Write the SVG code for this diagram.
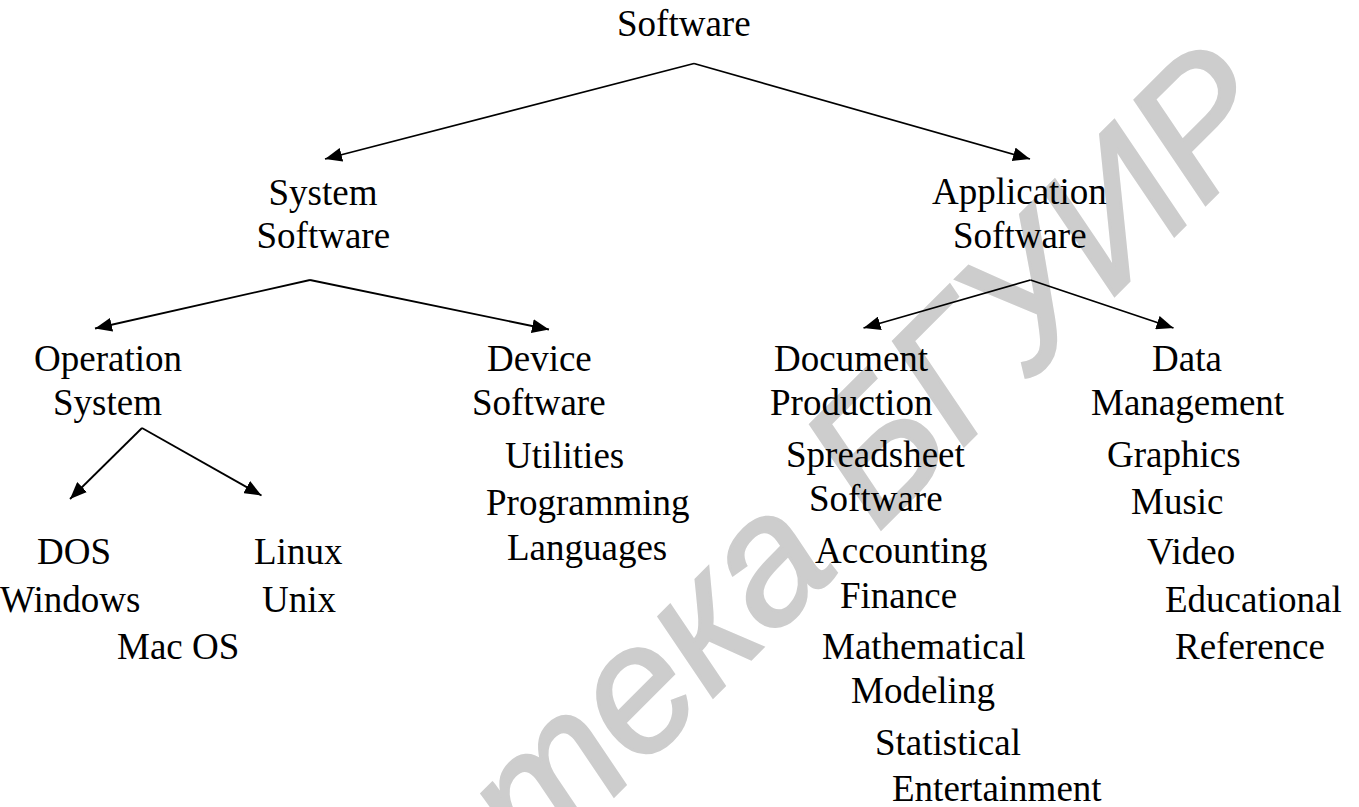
<svg xmlns="http://www.w3.org/2000/svg" width="1359" height="807" viewBox="0 0 1359 807">
  <style>
    .t { font-family: "Liberation Serif", "Times New Roman", serif; font-size: 37px; fill: #000; }
    .edge { stroke: #000; stroke-width: 1.8; fill: none; marker-end: url(#arrow); }
    .wm { font-family: "Liberation Sans", Arial, sans-serif; font-style: italic; font-size: 180px; fill: #cdcdcd; stroke: #cdcdcd; stroke-width: 3; }
  </style>
  <defs>
    <marker id="arrow" markerUnits="userSpaceOnUse" markerWidth="18" markerHeight="14" refX="17" refY="7" orient="auto">
      <path d="M0,0 L17,7 L0,14 Z" fill="#000"/>
    </marker>
  </defs>
  <rect width="1359" height="807" fill="#fff"/>

  <!-- library stamp behind the tree -->
  <g id="watermark" transform="translate(842,568) rotate(-45)">
    <text class="wm" x="0" y="0" text-anchor="end">Библиотека</text>
    <text class="wm" x="50" y="0">БГУИР</text>
  </g>

  <g id="connectors">
    <line class="edge" x1="694" y1="63.5" x2="325" y2="159"/>
    <line class="edge" x1="694" y1="63.5" x2="1030" y2="159"/>
    <line class="edge" x1="310" y1="280" x2="95" y2="328.5"/>
    <line class="edge" x1="310" y1="280" x2="549" y2="329.5"/>
    <line class="edge" x1="142" y1="428" x2="70" y2="499"/>
    <line class="edge" x1="142" y1="428" x2="261.5" y2="495.5"/>
    <line class="edge" x1="1030.5" y1="280" x2="863.5" y2="328"/>
    <line class="edge" x1="1030.5" y1="280" x2="1173.5" y2="328"/>
  </g>

  <g id="node-software"><text class="t" x="617" y="36">Software</text></g>

  <g id="node-system-software">
    <text class="t" x="268.5" y="205">System</text>
    <text class="t" x="256.5" y="247.5">Software</text>
  </g>
  <g id="node-application-software">
    <text class="t" x="932" y="204">Application</text>
    <text class="t" x="953" y="247.5">Software</text>
  </g>

  <g id="node-operation-system">
    <text class="t" x="34" y="371">Operation</text>
    <text class="t" x="53" y="415">System</text>
  </g>
  <g id="node-device-software">
    <text class="t" x="487" y="371">Device</text>
    <text class="t" x="472" y="415">Software</text>
  </g>
  <g id="node-utilities"><text class="t" x="505" y="468">Utilities</text></g>
  <g id="node-programming-languages">
    <text class="t" x="486" y="515">Programming</text>
    <text class="t" x="507" y="560">Languages</text>
  </g>

  <g id="node-dos"><text class="t" x="37" y="564">DOS</text></g>
  <g id="node-windows"><text class="t" x="0" y="611.5">Windows</text></g>
  <g id="node-mac-os"><text class="t" x="117" y="659">Mac OS</text></g>
  <g id="node-linux"><text class="t" x="254" y="564">Linux</text></g>
  <g id="node-unix"><text class="t" x="262" y="611.5">Unix</text></g>

  <g id="node-document-production">
    <text class="t" x="774" y="371">Document</text>
    <text class="t" x="770" y="415">Production</text>
  </g>
  <g id="node-spreadsheet-software">
    <text class="t" x="786" y="467">Spreadsheet</text>
    <text class="t" x="809" y="511">Software</text>
  </g>
  <g id="node-accounting"><text class="t" x="815" y="563">Accounting</text></g>
  <g id="node-finance"><text class="t" x="840" y="608">Finance</text></g>
  <g id="node-mathematical-modeling">
    <text class="t" x="822" y="659">Mathematical</text>
    <text class="t" x="851" y="703">Modeling</text>
  </g>
  <g id="node-statistical"><text class="t" x="875" y="755">Statistical</text></g>
  <g id="node-entertainment"><text class="t" x="892" y="801">Entertainment</text></g>

  <g id="node-data-management">
    <text class="t" x="1152" y="371">Data</text>
    <text class="t" x="1091" y="415">Management</text>
  </g>
  <g id="node-graphics"><text class="t" x="1107" y="467">Graphics</text></g>
  <g id="node-music"><text class="t" x="1131" y="514">Music</text></g>
  <g id="node-video"><text class="t" x="1147" y="564">Video</text></g>
  <g id="node-educational"><text class="t" x="1165" y="611.5">Educational</text></g>
  <g id="node-reference"><text class="t" x="1175" y="659">Reference</text></g>
</svg>
